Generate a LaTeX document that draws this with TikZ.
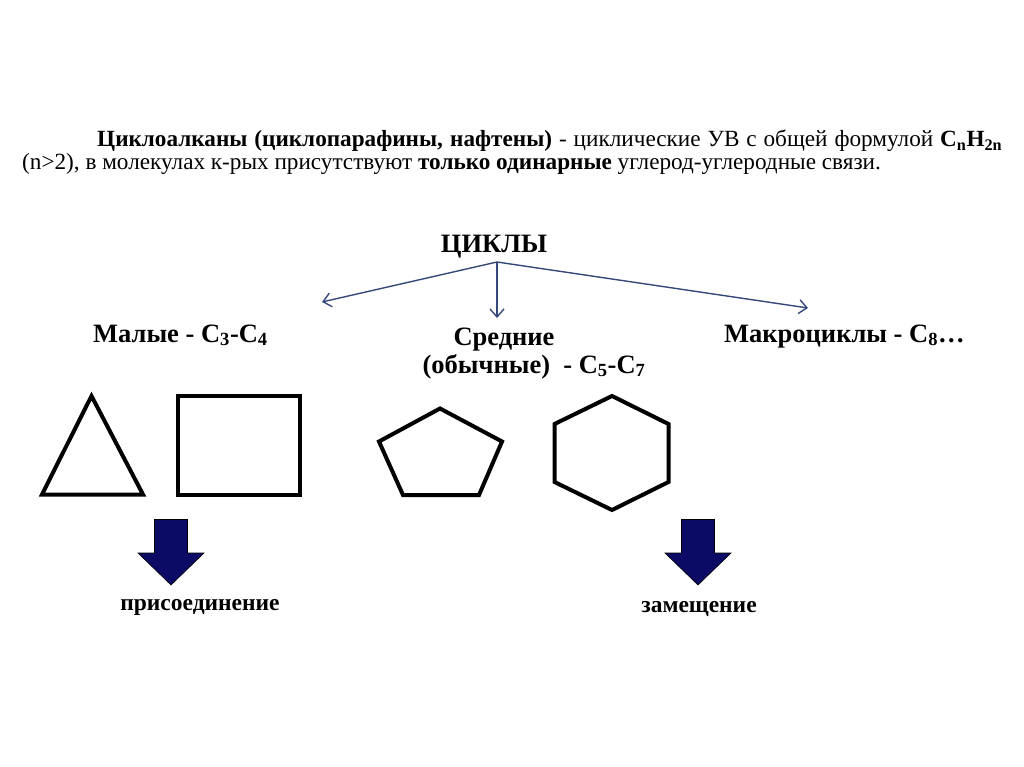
\documentclass[tikz,border=0pt]{standalone}
\usepackage{fontspec}
\setmainfont{Liberation Serif}
\usetikzlibrary{arrows.meta}
\definecolor{linkblue}{HTML}{34487A}
\definecolor{navyfill}{HTML}{0B0B66}
\tikzset{
  ring/.style={draw=black, line width=4pt},
  link/.style={draw=linkblue, line width=1.4pt, -{Straight Barb[length=8pt,width=14pt,line width=1.4pt]}},
  head/.style={font=\bfseries\fontsize{26.5}{30}\selectfont, inner sep=0pt},
  lbl/.style={font=\bfseries\fontsize{23.5}{26}\selectfont, inner sep=0pt, anchor=base},
  blockarr/.style={fill=navyfill, draw=black, line width=0.6pt}
}
\begin{document}
\begin{tikzpicture}[x=1pt, y=-1pt]
        \useasboundingbox (0,0) rectangle (1024,767);
        \node[anchor=base west, inner sep=0pt, font=\fontsize{23.2}{26}\selectfont] at (97,147) (line1)
          {\hbox to 905pt{\textbf{Циклоалканы (циклопарафины, нафтены)} - циклические УВ с общей формулой \textbf{C\textsubscript{n}H\textsubscript{2n}}}};
        \node[anchor=base west, inner sep=0pt, font=\fontsize{23.2}{26}\selectfont] at (22,170) (line2)
          {(n>2), в молекулах к-рых присутствуют \textbf{только одинарные} углерод-углеродные связи.};

        \node[head, anchor=base] at (494,252) (cycles) {ЦИКЛЫ};
        \coordinate (fork) at (497,262);
        \coordinate (toSmall) at (322,302);
        \coordinate (toMid) at (497,318);
        \coordinate (toMacro) at (808,308);
        \draw[link] (fork) -- (toSmall);
        \draw[link] (fork) -- (toMid);
        \draw[link] (fork) -- (toMacro);

        \node[head, anchor=base west] at (93,342) (small) {Малые - C\textsubscript{3}-C\textsubscript{4}};
        \node[head, anchor=base] at (504,345) (mid) {Средние};
        \node[head, anchor=base] at (534,373) (midb) {(обычные)~~- C\textsubscript{5}-C\textsubscript{7}};
        \node[head, anchor=base west] at (724,342) (macro) {Макроциклы - C\textsubscript{8}\ldots};

        \draw[ring] (91.5,396) -- (42,494.5) -- (143,494.5) -- cycle;
        \draw[ring] (178,396) rectangle (300,494.5);
        \draw[ring] (440,408.5) -- (502,441.5) -- (479,495) -- (403,495) -- (379,441.5) -- cycle;
        \draw[ring] (612,396) -- (668.5,424) -- (668.5,482) -- (612,510) -- (554.5,482) -- (554.5,424) -- cycle;

        \foreach \x in {171, 698}
        \draw[blockarr] (\x-16.5,519.5) -- (\x+16.5,519.5) -- (\x+16.5,553) -- (\x+33,553)
          -- (\x,585) -- (\x-33,553) -- (\x-16.5,553) -- cycle;

        \node[lbl] at (200,610) (addition) {присоединение};
        \node[lbl] at (699,612) (substitution) {замещение};
\end{tikzpicture}
\end{document}
